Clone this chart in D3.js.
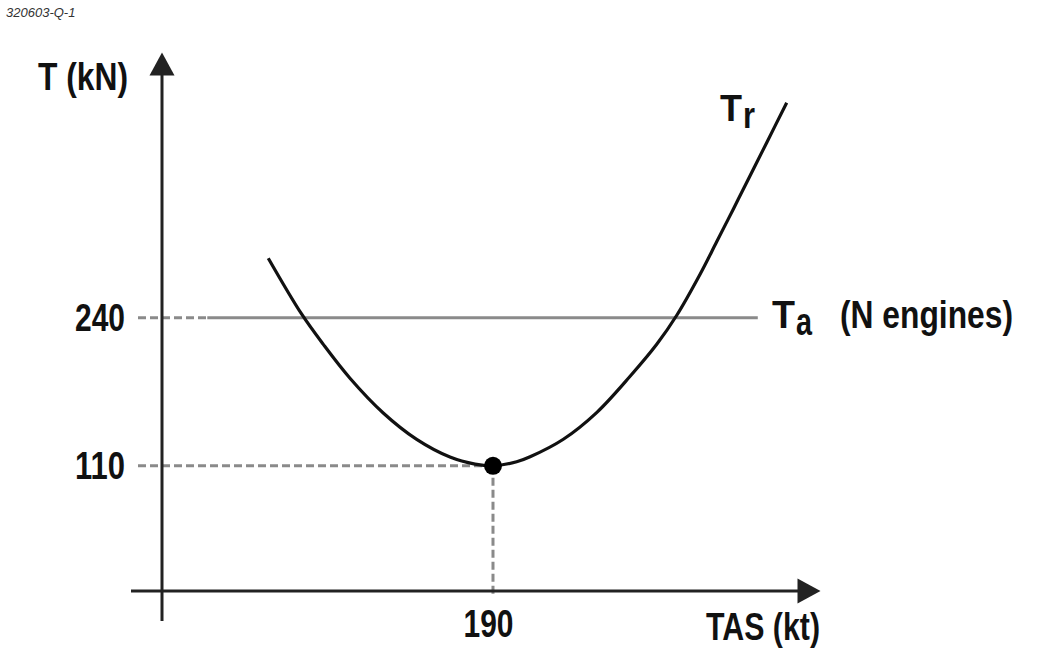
<!DOCTYPE html>
<html><head><meta charset="utf-8">
<script src="https://cdn.jsdelivr.net/npm/d3@7"></script>
<style>
html,body{margin:0;padding:0;background:#fff;}
svg{display:block;}
.lbl{font-family:"Liberation Sans Narrow","Arial Narrow","Liberation Sans",Arial,sans-serif;font-weight:bold;fill:#111;font-size:38px;}
</style></head><body>
<svg id="c" width="1055" height="660"></svg>
<script>
// ---- data ----
const speeds = [61.0, 80.2, 92.6, 107.9, 127.0, 146.2, 165.3, 179.7, 190.0, 203.6, 211.3, 230.4, 249.5, 268.7, 284.0, 295.5, 308.8, 318.4, 328.0, 337.5, 347.1, 358.6];
const thrustRequired = [292.3, 243.1, 216.6, 186.9, 156.4, 133.2, 117.7, 111.5, 110.0, 113.5, 117.9, 133.3, 156.7, 188.6, 216.7, 242.2, 278.0, 306.7, 335.6, 364.6, 393.8, 428.9];
const thrustAvailable = 240;
const taSpeedRange = [26, 342];
const minDragSpeed = 190;
const minDragThrust = 110;
const yTickValues = [240, 110];
const xTickValues = [190];

// ---- scales ----
const svg = d3.select("#c");
const x = d3.scaleLinear().domain([0, 378]).range([162, 820.5]);
const y = d3.scaleLinear().domain([0, 473]).range([591, 52.5]);

const fontFam = '"Liberation Sans Narrow","Arial Narrow","Liberation Sans",Arial,sans-serif';
const guideColor = "#8a8a8a";

// caption
svg.append("text").attr("x", 6).attr("y", 17)
  .style("font-family", '"Liberation Sans",Arial,sans-serif')
  .style("font-style", "italic").style("font-size", "13px").style("fill", "#333")
  .text("320603-Q-1");

// guide lines (dashed)
const g = svg.append("g");
g.append("line")
  .attr("x1", x(0) - 24).attr("x2", x(minDragSpeed))
  .attr("y1", y(minDragThrust)).attr("y2", y(minDragThrust))
  .attr("stroke", guideColor).attr("stroke-width", 3).attr("stroke-dasharray", "8,4");
g.append("line")
  .attr("x1", x(minDragSpeed)).attr("x2", x(minDragSpeed))
  .attr("y1", y(minDragThrust)).attr("y2", y(0) + 5)
  .attr("stroke", guideColor).attr("stroke-width", 3).attr("stroke-dasharray", "8,4");
g.append("line")
  .attr("x1", x(0) - 24).attr("x2", x(taSpeedRange[0]))
  .attr("y1", y(thrustAvailable)).attr("y2", y(thrustAvailable))
  .attr("stroke", guideColor).attr("stroke-width", 3).attr("stroke-dasharray", "8,4");

// Ta line (solid)
g.append("line")
  .attr("x1", x(taSpeedRange[0])).attr("x2", x(taSpeedRange[1]))
  .attr("y1", y(thrustAvailable)).attr("y2", y(thrustAvailable))
  .attr("stroke", guideColor).attr("stroke-width", 3);

// axes lines + arrows
const ax = svg.append("g");
ax.append("line").attr("x1", x(0)).attr("x2", x(0)).attr("y1", y(0) + 30).attr("y2", y.range()[1] + 22)
  .attr("stroke", "#222").attr("stroke-width", 3);
ax.append("line").attr("x1", x(0) - 31).attr("x2", x.range()[1] - 22).attr("y1", y(0)).attr("y2", y(0))
  .attr("stroke", "#222").attr("stroke-width", 3);
const yt = y.range()[1];
ax.append("path").attr("d", `M${x(0)},${yt} L${x(0) - 12.5},${yt + 23} L${x(0) + 12.5},${yt + 23} Z`).attr("fill", "#222");
const xt = x.range()[1];
ax.append("path").attr("d", `M${xt},${y(0)} L${xt - 23},${y(0) - 12.5} L${xt - 23},${y(0) + 12.5} Z`).attr("fill", "#222");

// tick labels via d3 axes
const yAxis = d3.axisLeft(y).tickValues(yTickValues).tickSize(0).tickPadding(37).tickFormat(d3.format("d"));
const ya = svg.append("g").attr("transform", `translate(${x(0)},0)`).call(yAxis);
ya.select(".domain").remove();
ya.selectAll("text").attr("class", "lbl").style("font-family", fontFam).style("font-size", "38px")
  .style("font-weight", "bold").attr("fill", "#111").attr("dy", "0.34em")
  .attr("textLength", 50).attr("lengthAdjust", "spacingAndGlyphs");

const xAxis = d3.axisBottom(x).tickValues(xTickValues).tickSize(0).tickPadding(19).tickFormat(d3.format("d"));
const xa = svg.append("g").attr("transform", `translate(0,${y(0)})`).call(xAxis);
xa.select(".domain").remove();
xa.selectAll("text").attr("class", "lbl").style("font-family", fontFam).style("font-size", "38px")
  .style("font-weight", "bold").attr("fill", "#111").attr("dx", -5)
  .attr("textLength", 50).attr("lengthAdjust", "spacingAndGlyphs");

// curve Tr
const pts = speeds.map((s, i) => [s, thrustRequired[i]]);
svg.append("path").datum(pts)
  .attr("d", d3.line().x(d => x(d[0])).y(d => y(d[1])).curve(d3.curveCatmullRom.alpha(0.5)))
  .attr("fill", "none").attr("stroke", "#111").attr("stroke-width", 3.2).attr("stroke-linecap", "butt");

// min point
svg.append("circle").attr("cx", x(minDragSpeed)).attr("cy", y(minDragThrust)).attr("r", 9).attr("fill", "#000");

// labels
function lbl(tx, ty, s, len, size) {
  const t = svg.append("text").attr("class", "lbl").attr("x", tx).attr("y", ty).text(s);
  if (size) t.style("font-size", size + "px");
  if (len) t.attr("textLength", len).attr("lengthAdjust", "spacingAndGlyphs");
  return t;
}
lbl(38, 90, "T (kN)", 90);
lbl(706, 640, "TAS (kt)", 114);
lbl(720, 121, "T", 22, 36);
lbl(743, 128, "r", 12, 36);
lbl(772, 328, "T", 23);
lbl(796, 335, "a", 16);
lbl(840, 328, "(N engines)", 173);
</script>
</body></html>
